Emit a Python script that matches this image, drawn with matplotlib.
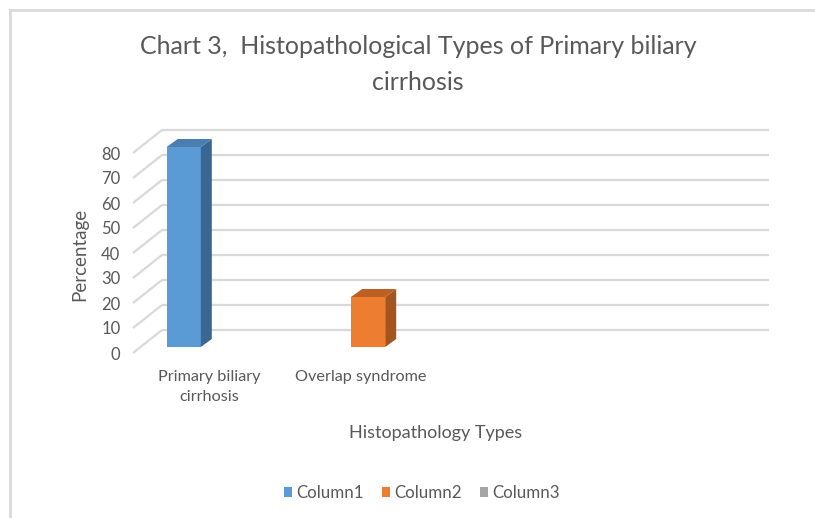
import numpy as np
import matplotlib
matplotlib.use("Agg")
import matplotlib.pyplot as plt
from matplotlib.patches import Polygon, Rectangle
from matplotlib.lines import Line2D

# data
categories = ["Primary biliary\ncirrhosis", "Overlap syndrome", "", ""]
series_names = ["Column1", "Column2", "Column3"]
column1 = [80, np.nan, np.nan, np.nan]
column2 = [np.nan, 20, np.nan, np.nan]
column3 = [np.nan, np.nan, np.nan, np.nan]
yticks = list(range(0, 81, 10))

front_colors = ["#5B9BD5", "#ED7D31", "#A5A5A5"]
side_colors = ["#3A6792", "#A4541E", "#7A7A7A"]
top_colors = ["#4A7DB0", "#BE5F22", "#8E8E8E"]
grid_c = "#D9D9D9"
text_c = "#595959"

plt.rcParams['font.family'] = ['Lato', 'DejaVu Sans']

W, H = 815, 518
fig = plt.figure(figsize=(W/100, H/100), dpi=100)
# front plane of the pseudo-3d plot
ax = fig.add_axes([133/W, 165/H, 607/W, 200/H])
ax.patch.set_visible(False)
for s in ax.spines.values():
    s.set_visible(False)

ux = 607/len(categories)   # px per category
uy = 200/80                # px per unit


def to_data(dx, dy):
    return dx/ux, dy/uy


wall = to_data(29, 23)      # back wall offset
bar_off = to_data(7.5, 6)   # bar front face offset
depth = to_data(11, 8)      # bar depth

x0, x1 = -0.5, len(categories) - 0.5
for v in yticks:
    ax.plot([x0+wall[0], x1+wall[0]], [v+wall[1]]*2, color=grid_c, lw=1.6,
            clip_on=False, zorder=1, solid_capstyle='butt')
    ax.plot([x0, x0+wall[0]], [v, v+wall[1]], color=grid_c, lw=1.6,
            clip_on=False, zorder=1, solid_capstyle='butt')

x = np.arange(len(categories))
width = 0.225
for i, vals in enumerate([column1, column2, column3]):
    pos = x + (i-1)*0.215 + bar_off[0]
    ax.bar(pos, vals, width, bottom=bar_off[1], color=front_colors[i],
           zorder=3, clip_on=False)
    for p, v in zip(pos, vals):
        if np.isnan(v):
            continue
        l, r = p - width/2, p + width/2
        b = bar_off[1]
        t = v + bar_off[1]
        side = Polygon([(r, b), (r+depth[0], b+depth[1]), (r+depth[0], t+depth[1]), (r, t)],
                       closed=True, fc=side_colors[i], ec='none', zorder=3, clip_on=False)
        top = Polygon([(l, t), (r, t), (r+depth[0], t+depth[1]), (l+depth[0], t+depth[1])],
                      closed=True, fc=top_colors[i], ec='none', zorder=3, clip_on=False)
        ax.add_patch(side)
        ax.add_patch(top)

ax.set_xlim(x0, x1)
ax.set_ylim(0, 80)
ax.set_yticks(yticks)
ax.set_xticks(x, categories)
ax.tick_params(axis='y', length=0, pad=9, labelcolor=text_c, labelsize=12)
ax.tick_params(axis='x', length=0, pad=12.5, labelcolor=text_c, labelsize=11.7)
for lbl in ax.get_xticklabels():
    lbl.set_linespacing(1.5)

fig.text(418/W, 1 - 64.5/H, "Chart 3,  Histopathological Types of Primary biliary\ncirrhosis",
         ha='center', va='center', fontsize=18, color=text_c, linespacing=1.65)
fig.text(80/W, 1 - 254/H, "Percentage", rotation=90, ha='center', va='center',
         fontsize=13.5, color=text_c)
fig.text(436/W, 1 - 433/H, "Histopathology Types", ha='center', va='center',
         fontsize=13, color=text_c)

handles = [Rectangle((0, 0), 1, 1, fc=c, ec='none') for c in front_colors]
fig.legend(handles, series_names, loc='center', bbox_to_anchor=(422/W, 25/H), ncol=3,
           frameon=False, handlelength=0.45, handleheight=0.55, handletextpad=0.25,
           columnspacing=1.1, fontsize=12.2, labelcolor=text_c)

# chart border (left and top visible)
fig.add_artist(Line2D([9.5/W, 1], [1-9.5/H, 1-9.5/H], transform=fig.transFigure,
                      color=grid_c, lw=2))
fig.add_artist(Line2D([9.5/W, 9.5/W], [0, 1-9.5/H], transform=fig.transFigure,
                      color=grid_c, lw=2))

fig.savefig("out.png", dpi=100)
